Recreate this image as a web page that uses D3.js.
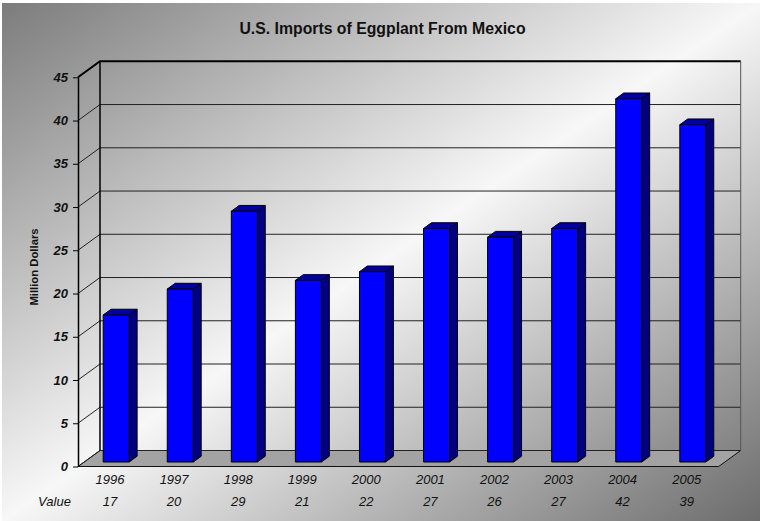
<!DOCTYPE html>
<html>
<head>
<meta charset="utf-8">
<script src="https://cdn.jsdelivr.net/npm/d3@7"></script>
<style>
  html, body { margin: 0; padding: 0; background: #ffffff; }
  svg { display: block; }
  text { font-family: "Liberation Sans", Arial, sans-serif; fill: #111; }
</style>
</head>
<body>
<svg id="chart" width="760" height="521"></svg>
<script>
// Annual U.S. eggplant imports from Mexico, million dollars
const years = ["1996", "1997", "1998", "1999", "2000", "2001", "2002", "2003", "2004", "2005"];
const values = [17, 20, 29, 21, 22, 27, 26, 27, 42, 39];
const yTicks = [0, 5, 10, 15, 20, 25, 30, 35, 40, 45];
const rowLabel = "Value";
const chartTitle = "U.S. Imports of Eggplant From Mexico";
const yTitle = "Million Dollars";

const W = 760, H = 521;
const svg = d3.select("#chart");

// front plane of the 3-D box and its depth offset
const plotLeft = 78, plotRight = 718.7, plotBottom = 466.5, plotTop = 77.3;
const DX = 22, DY = -16;

const x = d3.scaleBand().domain(years).range([plotLeft, plotRight]);
const y = d3.scaleLinear().domain([0, 45]).range([plotBottom, plotTop]);
const proj = (px, v, d) => [px + d * DX, y(v) + d * DY];

// page background: diagonal grey-white-grey wash
const defs = svg.append("defs");
const bg = defs.append("linearGradient").attr("id", "bgGrad")
  .attr("x1", 0).attr("y1", 0).attr("x2", 1).attr("y2", 1);
bg.append("stop").attr("offset", 0).attr("stop-color", "#7c7c7c");
bg.append("stop").attr("offset", 0.5).attr("stop-color", "#f7f7f7");
bg.append("stop").attr("offset", 1).attr("stop-color", "#6c6c6c");
svg.append("rect").attr("x", 2).attr("y", 3).attr("width", W - 2).attr("height", H - 3)
  .attr("fill", "url(#bgGrad)");

// title
svg.append("text").attr("x", 382.5).attr("y", 33.5).attr("text-anchor", "middle")
  .style("font-size", "15.8px").style("font-weight", "bold").text(chartTitle);

// floor
const floorPts = [proj(plotLeft, 0, 0), proj(plotLeft, 0, 1), proj(plotRight, 0, 1), proj(plotRight, 0, 0)];
svg.append("polygon").attr("points", floorPts.map(p => p.join(",")).join(" "))
  .attr("fill", "#a3a3a3").attr("stroke", "#111").attr("stroke-width", 1);

// gridlines on left wall and back wall
const grid = svg.append("g");
yTicks.forEach(v => {
  const a = proj(plotLeft, v, 0), b = proj(plotLeft, v, 1), c = proj(plotRight, v, 1);
  const w = v === 45 ? 2 : 1;
  grid.append("path").attr("d", `M${a}L${b}L${c}`)
    .attr("fill", "none").attr("stroke", v === 45 ? "#000" : "#222").attr("stroke-width", w);
});
// wall corner edges
const bl0 = proj(plotLeft, 0, 1), bl1 = proj(plotLeft, 45, 1);
grid.append("line").attr("x1", bl0[0]).attr("y1", bl0[1]).attr("x2", bl1[0]).attr("y2", bl1[1])
  .attr("stroke", "#000").attr("stroke-width", 1.5);
const br0 = proj(plotRight, 0, 1), br1 = proj(plotRight, 45, 1);
grid.append("line").attr("x1", br0[0]).attr("y1", br0[1]).attr("x2", br1[0]).attr("y2", br1[1])
  .attr("stroke", "#555").attr("stroke-width", 1);

// bars
const barRatio = 0.406, d0 = 0.28, d1 = 0.64;
const bars = svg.append("g");
years.forEach((yr, i) => {
  const v = values[i];
  const bw = x.bandwidth() * barRatio;
  const x0 = x(yr) + (x.bandwidth() - bw) / 2, x1 = x0 + bw;
  const f00 = proj(x0, 0, d0), f10 = proj(x1, 0, d0), f11 = proj(x1, v, d0), f01 = proj(x0, v, d0);
  const b10 = proj(x1, 0, d1), b11 = proj(x1, v, d1), b01 = proj(x0, v, d1);
  const poly = (pts, fill) => bars.append("polygon")
    .attr("points", pts.map(p => p.join(",")).join(" "))
    .attr("fill", fill).attr("stroke", "#000").attr("stroke-width", 1)
    .attr("stroke-linejoin", "round");
  poly([f10, b10, b11, f11], "#000080");
  poly([f01, f11, b11, b01], "#0000a0");
  poly([f00, f10, f11, f01], "#0000ff");
});

// value axis
const yAxis = svg.append("g").attr("transform", `translate(${plotLeft},0)`)
  .call(d3.axisLeft(y).tickValues(yTicks).tickSize(5).tickSizeOuter(0).tickPadding(5));
yAxis.select(".domain").attr("stroke", "#000").attr("stroke-width", 1.5);
yAxis.selectAll(".tick line").attr("stroke", "#000");
yAxis.selectAll(".tick text")
  .style("font-family", "'Liberation Sans', Arial, sans-serif")
  .style("font-size", "13px").style("font-weight", "bold").style("font-style", "italic")
  .attr("fill", "#111");

// axis title
svg.append("text").attr("transform", "translate(38,267) rotate(-90)")
  .attr("text-anchor", "middle").style("font-size", "11.3px").style("font-weight", "bold")
  .text(yTitle);

// category labels and data table row
const labels = svg.append("g").style("font-size", "13px").style("font-style", "italic");
years.forEach((yr, i) => {
  const cx = x(yr) + x.bandwidth() / 2;
  labels.append("text").attr("x", cx).attr("y", 483.5).attr("text-anchor", "middle").text(yr);
  labels.append("text").attr("x", cx).attr("y", 505.5).attr("text-anchor", "middle").text(values[i]);
});
labels.append("text").attr("x", 54.5).attr("y", 505.5).attr("text-anchor", "middle").text(rowLabel);
</script>
</body>
</html>
